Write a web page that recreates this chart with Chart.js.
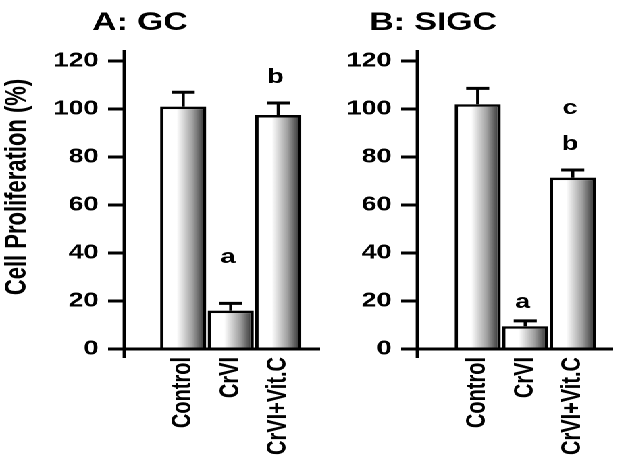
<!DOCTYPE html>
<html>
<head>
<meta charset="utf-8">
<script src="https://cdn.jsdelivr.net/npm/chart.js@4/dist/chart.umd.min.js"></script>
<style>
  html, body { margin: 0; padding: 0; background: #fff; overflow: hidden; }
  /* the original figure is stretched sideways, so draw narrow and widen it */
  #stage { position: absolute; left: 0; top: 0; width: 462px; height: 464px;
           transform: scaleX(1.3506); transform-origin: 0 0; }
  .panel { position: absolute; top: 0; height: 464px; }
  #panelA { left: 0; width: 245px; }
  #panelB { left: 245px; width: 217px; }
</style>
</head>
<body>
<div id="stage">
  <div class="panel" id="panelA"><canvas id="chartA"></canvas></div>
  <div class="panel" id="panelB"><canvas id="chartB"></canvas></div>
</div>
<script>
// categories and values
const categories = ['Control', 'CrVI', 'CrVI+Vit.C'];

const gcMean = [101, 16, 97.5];
const gcErr = [6, 3, 5];
const gcMarks = ['a', 'b'];
const gcMarkBar = [1, 2];
const gcMarkLevel = [35.8, 110.8];

const sigcMean = [102, 9.5, 71.4];
const sigcErr = [6.6, 2.2, 3.2];
const sigcMarks = ['a', 'b', 'c'];
const sigcMarkBar = [1, 2, 2];
const sigcMarkLevel = [17.1, 82.9, 97.9];

const yMax = 120;
const yStep = 20;

const FONT = '"Liberation Sans", Arial, sans-serif';

// shaded fill: white on the left, dark on the right of every bar
function barFill(context) {
    const chart = context.chart;
    const xs = chart.scales.x;
    if (!chart.chartArea || !xs) return '#ffffff';
    const cx = xs.getPixelForValue(context.dataIndex);
    const half = (xs.getPixelForValue(1) - xs.getPixelForValue(0)) * 0.97 / 2;
    const g = chart.ctx.createLinearGradient(cx - half, 0, cx + half, 0);
    g.addColorStop(0, '#ffffff');
    g.addColorStop(0.36, '#ffffff');
    g.addColorStop(0.7, '#a0a0a0');
    g.addColorStop(1, '#262626');
    return g;
}

// error bars, letters, axis lines and titles
const extras = {
    id: 'extras',
    afterDatasetsDraw(chart, args, opts) {
        const ctx = chart.ctx;
        const ys = chart.scales.y;
        const area = chart.chartArea;
        const bars = chart.getDatasetMeta(0).data;
        ctx.save();
        ctx.strokeStyle = '#000';
        ctx.fillStyle = '#000';

        bars.forEach((bar, i) => {
            const top = ys.getPixelForValue(opts.mean[i] + opts.err[i]);
            const half = bar.width / 4;
            ctx.lineWidth = 2.3;
            ctx.beginPath();
            ctx.moveTo(bar.x, bar.y);
            ctx.lineTo(bar.x, top);
            ctx.stroke();
            ctx.lineWidth = 3;
            ctx.beginPath();
            ctx.moveTo(bar.x - half, top);
            ctx.lineTo(bar.x + half, top);
            ctx.stroke();
        });

        ctx.font = 'bold 20px ' + FONT;
        ctx.textAlign = 'center';
        ctx.textBaseline = 'alphabetic';
        opts.marks.forEach((m, i) => {
            const bar = bars[opts.markBar[i]];
            ctx.fillText(m, bar.x - 2, ys.getPixelForValue(opts.markLevel[i]));
        });

        // axis lines run a little past the plotted range
        ctx.lineWidth = 2.4;
        ctx.beginPath();
        ctx.moveTo(area.left, area.top - 11);
        ctx.lineTo(area.left, area.bottom + 9);
        ctx.stroke();
        ctx.lineWidth = 3;
        ctx.beginPath();
        ctx.moveTo(area.left - 12, area.bottom);
        ctx.lineTo(area.right, area.bottom);
        ctx.stroke();

        ctx.font = 'bold 25px ' + FONT;
        ctx.textBaseline = 'middle';
        ctx.fillText(opts.title, opts.titleX, 23);

        if (opts.yLabel) {
            ctx.font = 'bold 22px ' + FONT;
            ctx.translate(13, 187);
            ctx.rotate(-Math.PI / 2);
            ctx.fillText(opts.yLabel, 0, 0);
        }
        ctx.restore();
    }
};

function makeChart(id, mean, extra, yWidth, xMin, xMax) {
    return new Chart(document.getElementById(id), {
        type: 'bar',
        data: {
            datasets: [{
                data: mean.map((v, i) => ({ x: i, y: v })),
                backgroundColor: barFill,
                borderColor: '#000',
                borderWidth: 2.5,
                barPercentage: 0.97,
                categoryPercentage: 1
            }]
        },
        options: {
            responsive: true,
            maintainAspectRatio: false,
            animation: false,
            devicePixelRatio: 2,
            layout: { padding: { top: 61, right: 8, bottom: 0, left: 0 } },
            plugins: {
                legend: { display: false },
                tooltip: { enabled: false },
                extras: extra
            },
            scales: {
                x: {
                    type: 'linear',
                    offset: false,
                    min: xMin,
                    max: xMax,
                    grid: { display: false, drawTicks: false, offset: false },
                    border: { display: false },
                    afterFit: s => { s.height = 115; },
                    ticks: {
                        stepSize: 1,
                        includeBounds: false,
                        autoSkip: false,
                        minRotation: 90,
                        maxRotation: 90,
                        padding: 8,
                        color: '#000',
                        font: { family: FONT, size: 20, weight: 'bold' },
                        callback: v => categories[v] || ''
                    }
                },
                y: {
                    min: 0,
                    max: yMax,
                    grid: {
                        drawOnChartArea: false,
                        drawTicks: true,
                        tickLength: 12,
                        lineWidth: 3,
                        color: '#000'
                    },
                    border: { display: false },
                    afterFit: s => { s.width = yWidth; },
                    ticks: {
                        stepSize: yStep,
                        padding: 7,
                        color: '#000',
                        font: { family: FONT, size: 20, weight: 'bold' }
                    }
                }
            }
        },
        plugins: [extras]
    });
}

makeChart('chartA', gcMean, {
    mean: gcMean, err: gcErr,
    marks: gcMarks, markBar: gcMarkBar, markLevel: gcMarkLevel,
    title: 'A: GC', titleX: 103.7,
    yLabel: 'Cell Proliferation (%)'
}, 92, -1.24, 2.88);

makeChart('chartB', sigcMean, {
    mean: sigcMean, err: sigcErr,
    marks: sigcMarks, markBar: sigcMarkBar, markLevel: sigcMarkLevel,
    title: 'B: SIGC', titleX: 75.7,
    yLabel: null
}, 64, -1.27, 2.85);
</script>
</body>
</html>
